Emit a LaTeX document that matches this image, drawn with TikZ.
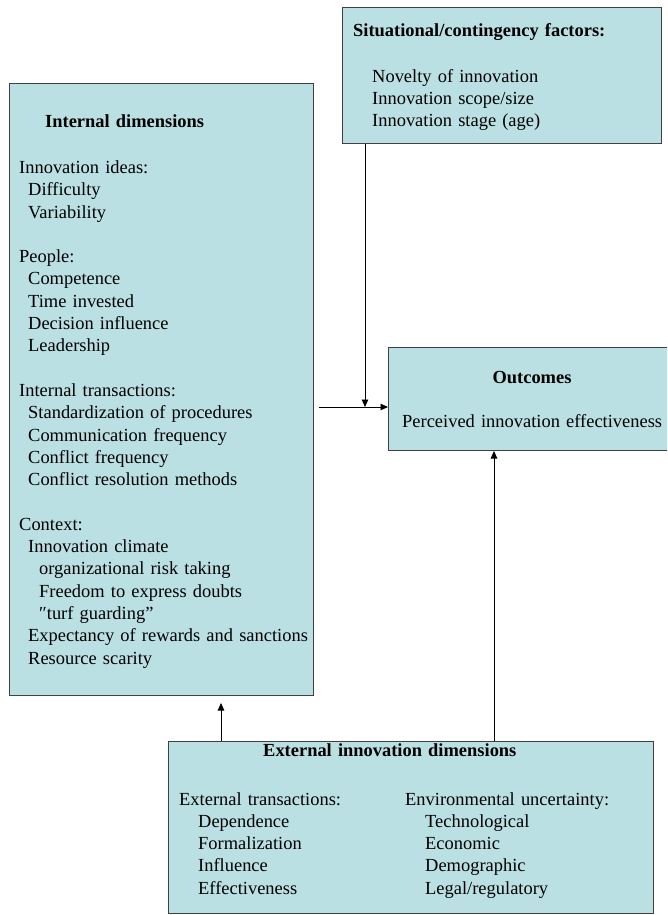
\documentclass[tikz,border=0pt]{standalone}
\usepackage{fontspec}
\setmainfont{Liberation Serif}
\usetikzlibrary{arrows.meta}

\definecolor{boxfill}{RGB}{186,224,227}
\definecolor{boxline}{RGB}{64,64,64}
\newcommand{\bodyfont}{\fontsize{18.45pt}{22.3pt}\selectfont\hyphenpenalty=10000 }

\tikzset{
  panel/.style={draw=boxline, fill=boxfill, line width=1pt, inner sep=0pt,
                anchor=north west},
  body/.style={inner sep=0pt, anchor=base west, align=left, font=\bodyfont},
  conn/.style={draw=black, line width=0.9pt,
               -{Triangle[length=7.5pt,width=6.5pt]}}
}

\begin{document}
\begin{tikzpicture}[x=1pt,y=-1pt]
\useasboundingbox (0,0) rectangle (667,915);
\clip (0,0) rectangle (667,915);

% boxes
\node[panel, minimum width=319pt, minimum height=136pt] (situational) at (342,7) {};
\node[panel, minimum width=304pt, minimum height=612pt] (internal) at (9,83) {};
\node[panel, minimum width=290pt, minimum height=103pt] (outcomes) at (388,347) {};
\node[panel, minimum width=485pt, minimum height=172pt] (external) at (168,741) {};

% situational / contingency factors
\node[body, text width=300pt] (sittext) at (353,37)
  {\textbf{Situational/contingency factors:}\\[23pt]
   \hspace*{19pt}Novelty of innovation\\
   \hspace*{19pt}Innovation scope/size\\
   \hspace*{19pt}Innovation stage (age)};

% internal dimensions
\node[body, text width=340pt] (inttext) at (19,128)
  {\hspace*{26pt}\textbf{Internal dimensions}\\[23.2pt]
   Innovation ideas:\\
   \hspace*{9pt}Difficulty\\
   \hspace*{9pt}Variability\\[22.3pt]
   People:\\
   \hspace*{9pt}Competence\\
   \hspace*{9pt}Time invested\\
   \hspace*{9pt}Decision influence\\
   \hspace*{9pt}Leadership\\[22.3pt]
   Internal transactions:\\
   \hspace*{9pt}Standardization of procedures\\
   \hspace*{9pt}Communication frequency\\
   \hspace*{9pt}Conflict frequency\\
   \hspace*{9pt}Conflict resolution methods\\[22.3pt]
   Context:\\
   \hspace*{9pt}Innovation climate\\
   \hspace*{20pt}organizational risk taking\\
   \hspace*{20pt}Freedom to express doubts\\
   \hspace*{20pt}″turf guarding”\\
   \hspace*{9pt}Expectancy of rewards and sanctions\\
   \hspace*{9pt}Resource scarity};

% outcomes
\node[body, anchor=base, font=\bodyfont\bfseries] (outtitle) at (532,383) {Outcomes};
\node[body, text width=300pt] (outtext) at (402,427) {Perceived innovation effectiveness};

% external innovation dimensions
\node[body, text width=300pt] (exttitle) at (263,756) {\textbf{External innovation dimensions}};
\node[body, text width=220pt] (extleft) at (179,805)
  {External transactions:\\
   \hspace*{19pt}Dependence\\
   \hspace*{19pt}Formalization\\
   \hspace*{19pt}Influence\\
   \hspace*{19pt}Effectiveness};
\node[body, text width=240pt] (extright) at (405,805)
  {Environmental uncertainty:\\
   \hspace*{20pt}Technological\\
   \hspace*{20pt}Economic\\
   \hspace*{20pt}Demographic\\
   \hspace*{20pt}Legal/regulatory};

% connectors
\coordinate (hstart) at (319,407);
\coordinate (vjoin) at (365,407);
\coordinate (upright) at (494,0);
\coordinate (upleft) at (221,703);

\draw[conn] (hstart) -- (outcomes.west |- hstart);
\draw[conn] (situational.south -| vjoin) -- (vjoin);
\draw[conn] (external.north -| upright) -- (outcomes.south -| upright);
\draw[conn] (external.north -| upleft) -- (upleft);
\end{tikzpicture}
\end{document}
